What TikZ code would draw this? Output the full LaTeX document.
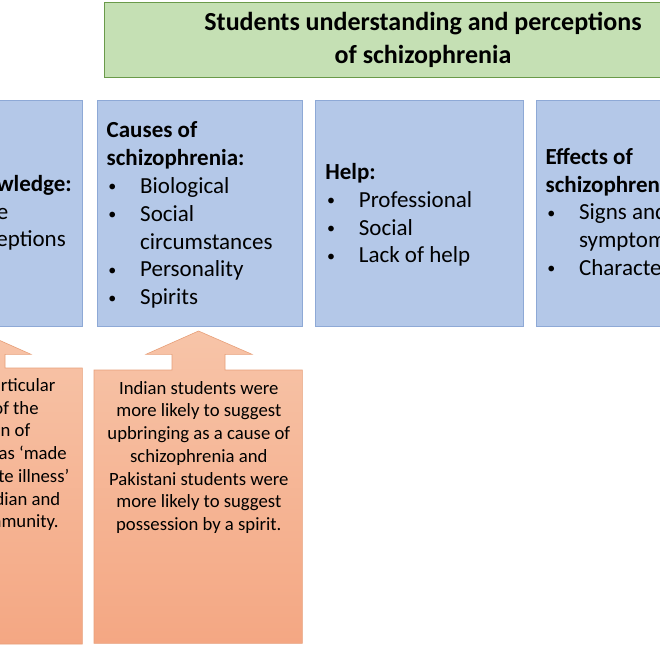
\documentclass[tikz,border=0pt]{standalone}
\usepackage{fontspec}
\setmainfont{Carlito}
\definecolor{bluefill}{HTML}{B4C8E8}
\definecolor{blueline}{HTML}{8EA9D6}
\definecolor{greenfill}{HTML}{C5E0B4}
\definecolor{greenline}{HTML}{6A9A4A}
\definecolor{salmontop}{HTML}{F7C4A8}
\definecolor{salmonbot}{HTML}{F4A783}
\definecolor{salmonline}{HTML}{E8A07A}
\newcommand\mybul{\makebox[33.5pt][l]{\hspace{1.7pt}\raisebox{1.6pt}{\fontsize{16}{16}\selectfont •}}}
\newcommand\myind{\hspace*{33.5pt}}
\begin{document}
\begin{tikzpicture}[x=1pt,y=-1pt,
  bluebox/.style={draw=blueline, fill=bluefill, line width=0.8pt, inner sep=0pt, anchor=north west, minimum height=226.5pt},
  titlebox/.style={draw=greenline, fill=greenfill, line width=0.8pt, inner sep=0pt, anchor=north west},
  blocktip/.style={draw=salmonline, line width=0.6pt, top color=salmontop, bottom color=salmonbot},
  btext/.style={font=\fontsize{23}{27.8}\selectfont, align=left, inner sep=0pt, anchor=north west},
  frag/.style={font=\fontsize{23}{27.8}\selectfont, inner sep=0pt, anchor=base east},
  atext/.style={font=\fontsize{18.7}{22.7}\selectfont, align=center, inner sep=0pt, anchor=north},
  afrag/.style={font=\fontsize{18.7}{22.7}\selectfont, inner sep=0pt, anchor=base east},
  ttext/.style={font=\fontsize{26}{32.6}\selectfont\bfseries, align=center, inner sep=0pt, anchor=north}]
\useasboundingbox (0,0) rectangle (660,648);
\clip (0,0) rectangle (660,648);
\fill[white] (0,0) rectangle (660,648);

% title
\node[titlebox, minimum width=638pt, minimum height=75pt] (title) at (104,2) {};
\node[ttext] (titletext) at (423,8.7) {\rule{0pt}{22pt}Students understanding and perceptions\\of schizophrenia};

% blue boxes
\node[bluebox, minimum width=205pt] (know) at (-123,99.5) {};
\node[bluebox, minimum width=205pt] (causes) at (97,99.5) {};
\node[bluebox, minimum width=207.7pt] (help) at (315,99.5) {};
\node[bluebox, minimum width=207pt] (effects) at (536,99.5) {};

% box texts
\node[frag] (knowa) at (72,191.7) {\textbf{wledge:}};
\node[frag] (knowb) at (8.5,219.3) {e};
\node[frag] (knowc) at (66,246.7) {eptions};

\node[btext] (causestext) at (106.5,117.7) {\rule{0pt}{20pt}\textbf{Causes of}\\\textbf{schizophrenia:}\\\mybul Biological\\\mybul Social\\\myind circumstances\\\mybul Personality\\\mybul Spirits};
\node[btext] (helptext) at (325.2,159.3) {\rule{0pt}{20pt}\textbf{Help:}\\\mybul Professional\\\mybul Social\\\mybul Lack of help};
\node[btext] (effectstext) at (545.4,144) {\rule{0pt}{20pt}\textbf{Effects of}\\\textbf{schizophrenia:}\\\mybul Signs and\\\myind symptoms\\\mybul Characteristics};

% block arrows
\path[blocktip] (-126,644) -- (-126,368) -- (-48,368) -- (-48,354.3) -- (-74,354.3) -- (-21.5,331) -- (31,354.3) -- (5,354.3) -- (5,368) -- (82.3,368) -- (82.3,644) -- cycle;
\path[blocktip] (94,643.3) -- (94,370) -- (172,370) -- (172,354.3) -- (146,354.3) -- (198.5,331) -- (252,354.3) -- (225,354.3) -- (225,370) -- (302.3,370) -- (302.3,643.3) -- cycle;

% arrow texts
\foreach \t/\x/\y [count=\i] in {rticular/55.5/391.7, of the/38.8/414.3, n of/30.5/436.7, as ‘made/67/459.3, te illness’/69.5/482, dian and/60.5/505, mmunity./58.8/527.3}
  \node[afrag] (pa\i) at (\x,\y) {\t};

\node[atext] (upbring) at (198.8,378) {\rule{0pt}{16pt}Indian students were\\more likely to suggest\\upbringing as a cause of\\schizophrenia and\\Pakistani students were\\more likely to suggest\\possession by a spirit.};
\end{tikzpicture}
\end{document}
